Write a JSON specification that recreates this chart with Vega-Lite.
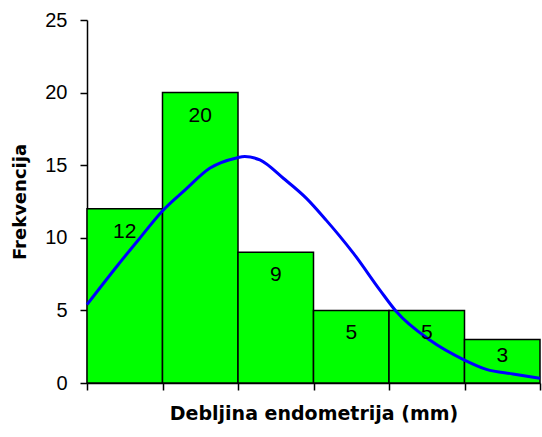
{
  "$schema": "https://vega.github.io/schema/vega-lite/v6.json",
  "width": 453,
  "height": 363,
  "autosize": {"type": "none"},
  "padding": {"left": 87, "top": 20, "right": 2, "bottom": 54},
  "background": "white",
  "config": {
    "view": {"stroke": null},
    "font": "Liberation Sans",
    "axis": {"grid": false, "domainColor": "#000000", "tickColor": "#000000", "domainWidth": 1.5, "tickWidth": 1.5}
  },
  "datasets": {
    "bars": [
      {"start": 0, "end": 1, "count": 12},
      {"start": 1, "end": 2, "count": 20},
      {"start": 2, "end": 3, "count": 9},
      {"start": 3, "end": 4, "count": 5},
      {"start": 4, "end": 5, "count": 5},
      {"start": 5, "end": 6, "count": 3}
    ],
    "curve": [
      {"pos": 0.0, "freq": 5.4},
      {"pos": 0.41, "freq": 8.13},
      {"pos": 0.68, "freq": 9.85},
      {"pos": 0.99, "freq": 11.8},
      {"pos": 1.3, "freq": 13.3},
      {"pos": 1.63, "freq": 14.8},
      {"pos": 1.98, "freq": 15.5},
      {"pos": 2.09, "freq": 15.6},
      {"pos": 2.29, "freq": 15.36},
      {"pos": 2.6, "freq": 14.1},
      {"pos": 2.91, "freq": 12.7},
      {"pos": 3.17, "freq": 11.2},
      {"pos": 3.35, "freq": 10.1},
      {"pos": 3.53, "freq": 8.93},
      {"pos": 3.88, "freq": 6.4},
      {"pos": 4.1, "freq": 4.9},
      {"pos": 4.54, "freq": 2.96},
      {"pos": 5.0, "freq": 1.58},
      {"pos": 5.29, "freq": 0.94},
      {"pos": 5.64, "freq": 0.62},
      {"pos": 6.0, "freq": 0.32}
    ]
  },
  "layer": [
    {
      "data": {"name": "bars"},
      "mark": {"type": "rect", "fill": "#00FF00", "stroke": "#000000", "strokeWidth": 1.5},
      "encoding": {
        "x": {"field": "start", "type": "quantitative", "scale": {"domain": [0, 6], "nice": false, "zero": false},
          "axis": {"values": [0, 1, 2, 3, 4, 5, 6], "labels": false, "tickSize": 7, "title": "Debljina endometrija (mm)", "titleFont": "DejaVu Sans", "titleFontSize": 19, "titleFontWeight": "bold", "titleColor": "#000000", "titleBaseline": "middle", "titleY": 30}},
        "x2": {"field": "end"},
        "y": {"field": "count", "type": "quantitative", "scale": {"domain": [0, 25], "nice": false},
          "axis": {"values": [0, 5, 10, 15, 20, 25], "tickSize": 7, "labelPadding": 13, "labelFontSize": 20, "labelColor": "#000000", "labelFont": "Liberation Sans", "title": "Frekvencija", "titleFont": "DejaVu Sans", "titleFontSize": 18, "titleFontWeight": "bold", "titleColor": "#000000", "titleBaseline": "middle", "titleX": -67}},
        "y2": {"datum": 0}
      }
    },
    {
      "data": {"name": "curve"},
      "mark": {"type": "line", "color": "#0000FF", "strokeWidth": 3, "interpolate": "monotone"},
      "encoding": {
        "x": {"field": "pos", "type": "quantitative"},
        "y": {"field": "freq", "type": "quantitative"}
      }
    },
    {
      "data": {"name": "bars"},
      "transform": [{"filter": "datum.count > 3"}, {"calculate": "(datum.start + datum.end) / 2", "as": "mid"}],
      "mark": {"type": "text", "fontSize": 21, "font": "Liberation Sans", "color": "#000000", "baseline": "middle", "dy": 23},
      "encoding": {
        "x": {"field": "mid", "type": "quantitative"},
        "y": {"field": "count", "type": "quantitative"},
        "text": {"field": "count", "type": "quantitative"}
      }
    },
    {
      "data": {"name": "bars"},
      "transform": [{"filter": "datum.count <= 3"}, {"calculate": "(datum.start + datum.end) / 2", "as": "mid"}],
      "mark": {"type": "text", "fontSize": 21, "font": "Liberation Sans", "color": "#000000", "baseline": "middle", "dy": 17},
      "encoding": {
        "x": {"field": "mid", "type": "quantitative"},
        "y": {"field": "count", "type": "quantitative"},
        "text": {"field": "count", "type": "quantitative"}
      }
    }
  ]
}
